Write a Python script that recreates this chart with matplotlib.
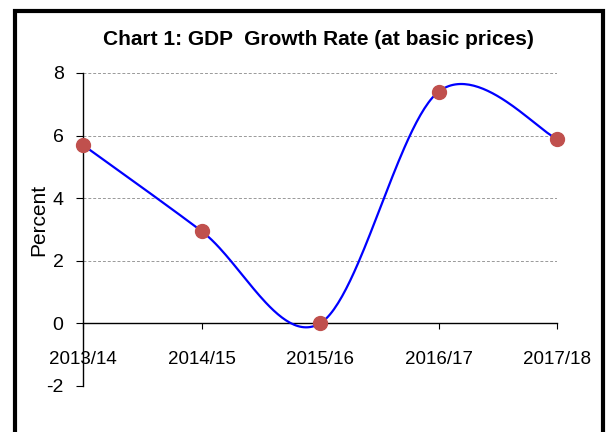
import numpy as np
import matplotlib
matplotlib.use("Agg")
import matplotlib.pyplot as plt
from matplotlib.patches import Rectangle

# ── Data ─────────────────────────────────────────────────────────────────────
years = ["2013/14", "2014/15", "2015/16", "2016/17", "2017/18"]
growth = [5.7, 2.95, 0.0, 7.4, 5.9]
y_ticks = [-2, 0, 2, 4, 6, 8]


def smooth_curve(xs, ys, n=60):
    """Catmull-Rom style Bezier smoothing (like Excel's smoothed line)."""
    pts = np.column_stack([xs, ys]).astype(float)
    ext = np.vstack([pts[0], pts, pts[-1]])
    out = []
    t = np.linspace(0, 1, n)[:, None]
    for i in range(len(pts) - 1):
        p0, p1, p2, p3 = ext[i], ext[i + 1], ext[i + 2], ext[i + 3]
        c1 = p1 + (p2 - p0) / 6
        c2 = p2 - (p3 - p1) / 6
        seg = ((1 - t) ** 3 * p1 + 3 * (1 - t) ** 2 * t * c1
               + 3 * (1 - t) * t ** 2 * c2 + t ** 3 * p2)
        out.append(seg)
    out = np.vstack(out)
    return out[:, 0], out[:, 1]


plt.rcParams["font.family"] = ["Liberation Sans", "DejaVu Sans"]
plt.rcParams["axes.unicode_minus"] = False

fig = plt.figure(figsize=(6.08, 4.32), dpi=100)
fig.patch.set_facecolor("white")

# outer chart frame
fig.patches.append(Rectangle((15 / 608, -0.1), (603 - 15) / 608, 1.1 - 11 / 432,
                             transform=fig.transFigure, fill=False,
                             edgecolor="black", linewidth=3))

ax = fig.add_axes([83 / 608, 1 - 386 / 432, (557 - 83) / 608, (386 - 73) / 432])

x = np.arange(len(years))
sx, sy = smooth_curve(x, growth)
ax.plot(sx, sy, color="#0000FF", lw=1.6, zorder=3, clip_on=False)
ax.plot(x, growth, "o", color="#C0504D", ms=10, mec="#C0504D", zorder=4,
        clip_on=False)

ax.set_xlim(0, len(years) - 1)
ax.set_ylim(-2, 8)
ax.set_yticks(y_ticks)
ax.set_xticks(x)
ax.set_xticklabels(years)
ax.tick_params(axis="y", labelsize=14, direction="out", length=5, pad=9)
ax.tick_params(axis="x", labelsize=13.5, direction="out", length=4, pad=16)

ax.spines["top"].set_visible(False)
ax.spines["right"].set_visible(False)
ax.spines["bottom"].set_position(("data", 0))
for s in ["left", "bottom"]:
    ax.spines[s].set_linewidth(1.0)

ax.yaxis.grid(True, linestyle=(0, (3, 2)), color="#999999", lw=0.7)
ax.set_axisbelow(True)

ax.set_ylabel("Percent", fontsize=15)
ax.yaxis.set_label_coords(-0.074, 0.53)

fig.text(0.523, 0.908, "Chart 1: GDP  Growth Rate (at basic prices)",
         ha="center", va="center", fontsize=15, fontweight="bold")

fig.savefig("out.png", dpi=100)
